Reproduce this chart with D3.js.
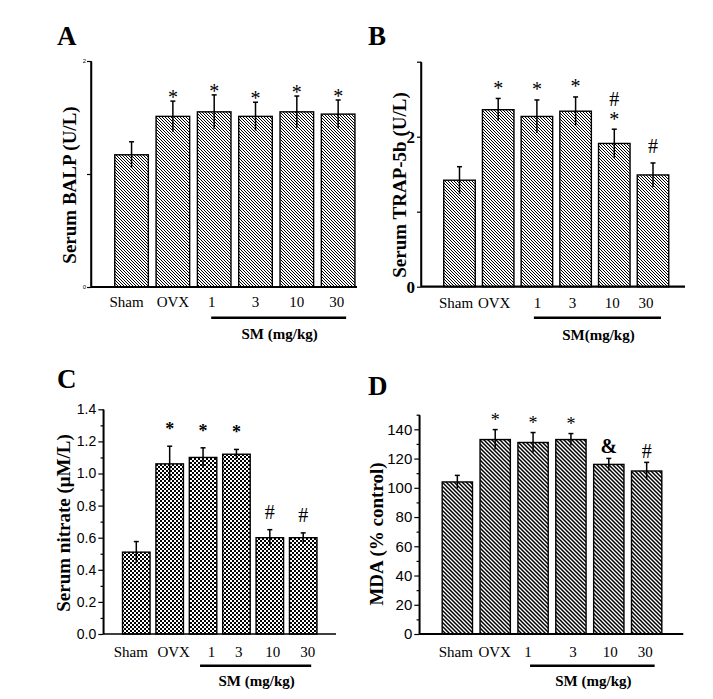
<!DOCTYPE html>
<html>
<head>
<meta charset="utf-8">
<script src="https://cdn.jsdelivr.net/npm/d3@7/dist/d3.min.js"></script>
<style>
  html, body { margin: 0; padding: 0; background: #fff; }
  svg { display: block; }
</style>
</head>
<body>
<svg id="chart" width="713" height="699"></svg>
<script>
// ---------------- DATA ----------------
const categories = ["Sham", "OVX", "1", "3", "10", "30"];

const balpValues = [1.17, 1.51, 1.55, 1.51, 1.55, 1.53];
const balpErrors = [0.115, 0.135, 0.15, 0.125, 0.14, 0.125];
const balpMarks  = [[], ["*"], ["*"], ["*"], ["*"], ["*"]];
const balpTicks  = [0, 1, 2];
const balpTickLabels = ["0", "", "2"];

const trapValues = [1.42, 2.36, 2.27, 2.34, 1.91, 1.49];
const trapErrors = [0.18, 0.15, 0.22, 0.19, 0.19, 0.16];
const trapMarks  = [[], ["*"], ["*"], ["*"], ["*", "#"], ["#"]];
const trapTicks  = [0, 1, 2, 3];
const trapTickLabels = ["0", "", "2", ""];

const nitrateValues = [0.51, 1.06, 1.10, 1.12, 0.60, 0.60];
const nitrateErrors = [0.066, 0.11, 0.06, 0.03, 0.05, 0.03];
const nitrateMarks  = [[], ["*"], ["*"], ["*"], ["#"], ["#"]];
const nitrateTicks  = [0, 0.2, 0.4, 0.6, 0.8, 1.0, 1.2, 1.4];
const nitrateMinorTicks = [0.1, 0.3, 0.5, 0.7, 0.9, 1.1, 1.3];

const mdaValues = [104, 133, 131, 133, 116, 111.5];
const mdaErrors = [4.5, 6.8, 6.8, 4.1, 4.1, 5.9];
const mdaMarks  = [[], ["*"], ["*"], ["*"], ["&"], ["#"]];
const mdaTicks  = [0, 20, 40, 60, 80, 100, 120, 140];
const mdaMinorTicks = [10, 30, 50, 70, 90, 110, 130, 150];

const groupLabels = ["SM (mg/kg)", "SM(mg/kg)", "SM (mg/kg)", "SM (mg/kg)"];
const yTitles = ["Serum BALP (U/L)", "Serum TRAP-5b (U/L)", "Serum nitrate (\u03BCM/L)", "MDA (% control)"];
const panelLetters = ["A", "B", "C", "D"];

// ---------------- DRAWING ----------------
const SERIF = "'Liberation Serif', 'Times New Roman', serif";
const SANS = "'Liberation Sans', Arial, sans-serif";
const svg = d3.select("#chart");
svg.append("rect").attr("width", 713).attr("height", 699).attr("fill", "#fff");

const defs = svg.append("defs");
// dense back-diagonal hatch (A, B)
const p1 = defs.append("pattern").attr("id", "hatchA").attr("patternUnits", "userSpaceOnUse")
  .attr("width", 3).attr("height", 3);
p1.append("rect").attr("width", 3).attr("height", 3).attr("fill", "#fff");
p1.append("path").attr("d", "M0,0L3,3M-1,2L1,4M2,-1L4,1").attr("stroke", "#000").attr("stroke-width", 1.0);
// checker (C)
const p2 = defs.append("pattern").attr("id", "hatchC").attr("patternUnits", "userSpaceOnUse")
  .attr("width", 4).attr("height", 4);
p2.append("rect").attr("width", 4).attr("height", 4).attr("fill", "#fff");
p2.append("rect").attr("width", 2).attr("height", 2).attr("fill", "#000");
p2.append("rect").attr("x", 2).attr("y", 2).attr("width", 2).attr("height", 2).attr("fill", "#000");
// diagonal stripes (D)
const p3 = defs.append("pattern").attr("id", "hatchD").attr("patternUnits", "userSpaceOnUse")
  .attr("width", 4).attr("height", 4);
p3.append("rect").attr("width", 4).attr("height", 4).attr("fill", "#fff");
p3.append("path").attr("d", "M0,0L4,4M-1,3L1,5M3,-1L5,1").attr("stroke", "#000").attr("stroke-width", 1.5);

function panel(cfg) {
  const g = svg.append("g");
  const x = d3.scaleBand().domain(categories).range(cfg.xr)
    .paddingInner(cfg.pad).paddingOuter(cfg.pad / 2);
  const y = d3.scaleLinear().domain(cfg.domain).range(cfg.yr);
  const data = categories.map((c, i) => ({ i, c, v: cfg.values[i], e: cfg.errors[i], m: cfg.marks[i] }));
  const cx = d => x(d.c) + x.bandwidth() / 2;

  // bars
  g.selectAll("rect.bar").data(data).join("rect").attr("class", "bar")
    .attr("x", d => x(d.c)).attr("y", d => y(d.v))
    .attr("width", x.bandwidth()).attr("height", d => y(0) - y(d.v))
    .attr("fill", `url(#${cfg.pattern})`).attr("stroke", "#000").attr("stroke-width", 1.4);

  // error bars
  g.selectAll("line.err").data(data).join("line").attr("class", "err")
    .attr("x1", cx).attr("x2", cx)
    .attr("y1", d => y(d.v - d.e)).attr("y2", d => y(d.v + d.e))
    .attr("stroke", "#000").attr("stroke-width", 1.5);
  g.selectAll("line.cap").data(data).join("line").attr("class", "cap")
    .attr("x1", d => cx(d) - cfg.cap).attr("x2", d => cx(d) + cfg.cap)
    .attr("y1", d => y(d.v + d.e)).attr("y2", d => y(d.v + d.e))
    .attr("stroke", "#000").attr("stroke-width", 1.5);

  // significance marks
  const sym = {
    "*": { lo: 0.3, hi: 0.68 },
    "#": { lo: 0.0, hi: 0.676 },
    "&": { lo: -0.01, hi: 0.68 }
  };
  data.forEach(d => {
    let bottom = y(d.v + d.e);
    d.m.forEach((s, k) => {
      const st = cfg.markStyle[s];
      const gap = k === 0 ? st.gap : cfg.stackGap;
      const base = bottom - gap + sym[s].lo * st.size;
      g.append("text").attr("x", cx(d)).attr("y", base)
        .attr("text-anchor", "middle")
        .attr("font-family", SERIF).attr("font-size", st.size)
        .attr("font-weight", st.bold ? "bold" : "normal")
        .text(s);
      bottom = base - sym[s].hi * st.size;
    });
  });

  // y axis
  const ax = d3.axisLeft(y).tickValues(cfg.ticks).tickSize(cfg.tickLen).tickSizeOuter(0)
    .tickPadding(cfg.tickPad)
    .tickFormat((t, i) => cfg.tickLabels ? cfg.tickLabels[i] : d3.format(cfg.fmt)(t));
  const ya = g.append("g").attr("transform", `translate(${cfg.axisX},0)`).call(ax);
  ya.select(".domain").attr("stroke", "#000").attr("stroke-width", 1.5);
  ya.selectAll(".tick line").attr("stroke", "#000").attr("stroke-width", 1.2);
  ya.selectAll(".tick text").attr("fill", "#000")
    .attr("font-family", cfg.tickFont).attr("font-size", cfg.tickSize)
    .attr("font-weight", cfg.tickBold ? "bold" : "normal");
  if (cfg.minor) {
    const mx = d3.axisLeft(y).tickValues(cfg.minor).tickSize(cfg.tickLen * 0.55).tickSizeOuter(0).tickFormat("");
    const ma = g.append("g").attr("transform", `translate(${cfg.axisX},0)`).call(mx);
    ma.select(".domain").remove();
    ma.selectAll(".tick line").attr("stroke", "#000").attr("stroke-width", 1.2);
  }
  g.append("line").attr("x1", cfg.axisX).attr("x2", cfg.axisX)
    .attr("y1", cfg.yr[0]).attr("y2", cfg.yr[1]).attr("stroke", "#000").attr("stroke-width", 1.5);

  // x axis line
  g.append("line").attr("x1", cfg.axisX).attr("x2", cfg.xEnd)
    .attr("y1", y(0)).attr("y2", y(0)).attr("stroke", "#000").attr("stroke-width", cfg.xAxisW);

  // category labels
  g.selectAll("text.cat").data(data).join("text").attr("class", "cat")
    .attr("x", d => cx(d) + cfg.catShift[d.i]).attr("y", cfg.catY).attr("text-anchor", "middle")
    .attr("font-family", SERIF).attr("font-size", 15).attr("fill", "#000")
    .text(d => d.c);

  // group line and label
  const gx1 = cx(data[2]) - 3, gx2 = cx(data[5]) + 8;
  g.append("line").attr("x1", gx1).attr("x2", gx2).attr("y1", cfg.lineY).attr("y2", cfg.lineY)
    .attr("stroke", "#000").attr("stroke-width", 2.5);
  g.append("text").attr("x", (gx1 + gx2) / 2 + 1).attr("y", cfg.groupY).attr("text-anchor", "middle")
    .attr("font-family", SERIF).attr("font-size", 15).attr("font-weight", "bold")
    .text(cfg.group);

  // y title
  g.append("text").attr("transform", `translate(${cfg.titleX},${cfg.titleY}) rotate(-90)`)
    .attr("text-anchor", "middle").attr("font-family", SERIF).attr("font-size", 19)
    .attr("font-weight", "bold").text(cfg.title);

  // panel letter
  g.append("text").attr("x", cfg.letterX).attr("y", cfg.letterY)
    .attr("font-family", SERIF).attr("font-size", 27).attr("font-weight", "bold")
    .text(cfg.letter);
}

panel({
  values: balpValues, errors: balpErrors, marks: balpMarks,
  xr: [110.9, 358.8], pad: 0.187, domain: [0, 2], yr: [287, 61],
  pattern: "hatchA", cap: 2.5,
  markStyle: { "*": { size: 20, gap: 3 } }, stackGap: 6,
  ticks: balpTicks, tickLabels: balpTickLabels, tickLen: 4, tickPad: 1,
  tickFont: SANS, tickSize: 6, tickBold: false,
  axisX: 91, xEnd: 357, xAxisW: 2.2,
  catY: 306.5, catShift: [-5, 0, -2.5, 0, 0, -1.5],
  lineY: 317.7, groupY: 339, group: groupLabels[0],
  title: yTitles[0], titleX: 76, titleY: 185,
  letter: panelLetters[0], letterX: 57, letterY: 45
});

panel({
  values: trapValues, errors: trapErrors, marks: trapMarks,
  xr: [440.15, 672.35], pad: 0.186, domain: [0, 3], yr: [286.7, 61.7],
  pattern: "hatchA", cap: 2.5,
  markStyle: { "*": { size: 20, gap: 9.5 }, "#": { size: 20, gap: 10 } }, stackGap: 6.5,
  ticks: trapTicks, tickLabels: trapTickLabels, tickLen: 4, tickPad: 2,
  tickFont: SERIF, tickSize: 17, tickBold: true,
  axisX: 421, xEnd: 685, xAxisW: 2.2,
  catY: 308, catShift: [-3.5, -4, 0.5, -3, -2, -7],
  lineY: 317.7, groupY: 340, group: groupLabels[1],
  title: yTitles[1], titleX: 406, titleY: 185,
  letter: panelLetters[1], letterX: 368, letterY: 45
});

panel({
  values: nitrateValues, errors: nitrateErrors, marks: nitrateMarks,
  xr: [119.6, 319.9], pad: 0.176, domain: [0, 1.4], yr: [634, 409.3],
  pattern: "hatchC", cap: 2.5,
  markStyle: { "*": { size: 18, gap: 16.5, bold: true }, "#": { size: 20, gap: 10.5 } }, stackGap: 6,
  ticks: nitrateTicks, minor: nitrateMinorTicks, fmt: ".1f", tickLen: 5, tickPad: 2,
  tickFont: SANS, tickSize: 14, tickBold: false,
  axisX: 103.3, xEnd: 336, xAxisW: 1.6,
  catY: 656.5, catShift: [-5.5, 4, 8.5, 2.3, 3, 4.5],
  lineY: 665.7, groupY: 686, group: groupLabels[2],
  title: yTitles[2], titleX: 70, titleY: 523,
  letter: panelLetters[2], letterX: 57, letterY: 388
});

panel({
  values: mdaValues, errors: mdaErrors, marks: mdaMarks,
  xr: [438.4, 665.6], pad: 0.2, domain: [0, 150], yr: [634, 414.7],
  pattern: "hatchD", cap: 2.5,
  markStyle: { "*": { size: 18, gap: 9 }, "&": { size: 20, gap: 5, bold: true }, "#": { size: 20, gap: 4 } }, stackGap: 6,
  ticks: mdaTicks, minor: mdaMinorTicks, fmt: "d", tickLen: 5, tickPad: 2,
  tickFont: SANS, tickSize: 15, tickBold: false,
  axisX: 419.3, xEnd: 683.3, xAxisW: 2.2,
  catY: 657, catShift: [-1.5, -0.5, -5, 2, 1.5, -1.5],
  lineY: 665.7, groupY: 686, group: groupLabels[3],
  title: yTitles[3], titleX: 383, titleY: 534,
  letter: panelLetters[3], letterX: 368, letterY: 395
});
</script>
</body>
</html>
